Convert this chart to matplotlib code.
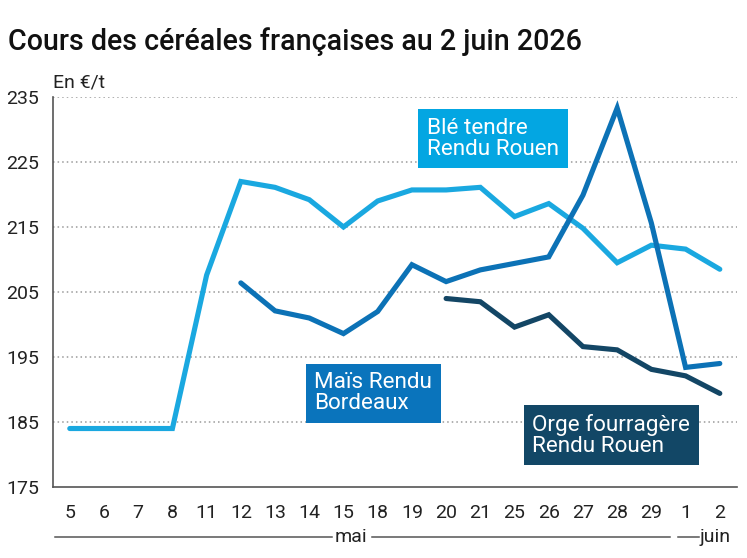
import matplotlib.pyplot as plt
import matplotlib.lines as mlines

plt.rcParams["font.family"] = ["Roboto", "DejaVu Sans"]

jours = ["5", "6", "7", "8", "11", "12", "13", "14", "15", "18", "19", "20",
         "21", "25", "26", "27", "28", "29", "1", "2"]
ble = [184, 184, 184, 184, 207.6, 222, 221.1, 219.2, 215, 219, 220.7, 220.7,
       221.1, 216.6, 218.6, 214.8, 209.5, 212.2, 211.6, 208.5]
mais = [None] * 5 + [206.4, 202.1, 201, 198.6, 202, 209.2, 206.6,
                     208.4, 209.4, 210.4, 219.9, 233.3, 215.6, 193.4, 194]
orge = [None] * 11 + [204, 203.5, 199.6, 201.5, 196.6, 196.1, 193.1, 192.1, 189.4]
yticks = [175, 185, 195, 205, 215, 225, 235]

c_ble = "#1aa8e0"
c_mais = "#0c72b6"
c_orge = "#134665"

fig = plt.figure(figsize=(7.47, 5.58), dpi=100)
ax = fig.add_axes([0.0705, 0.1272, 0.916, 0.699])

x = list(range(len(jours)))
for serie, col in [(ble, c_ble), (mais, c_mais), (orge, c_orge)]:
    xs = [i for i, v in zip(x, serie) if v is not None]
    ys = [v for v in serie if v is not None]
    ax.plot(xs, ys, color=col, lw=3.7, solid_joinstyle="miter", solid_capstyle="round", zorder=3)

ax.set_xlim(-0.5, 19.5)
ax.set_ylim(175, 235)
ax.set_yticks(yticks)
ax.set_xticks(x)
ax.set_xticklabels(jours)
ax.tick_params(axis="both", length=0, labelsize=14, colors="#222222")
ax.tick_params(axis="x", pad=12)
ax.tick_params(axis="y", pad=10)
for yv in yticks[1:]:
    ax.axhline(yv, color="#9a9a9a", lw=1.1, ls=(0, (1, 2)), zorder=1)

for s in ["top", "right"]:
    ax.spines[s].set_visible(False)
for s in ["left", "bottom"]:
    ax.spines[s].set_color("#555555")
    ax.spines[s].set_linewidth(1.2)

fig.text(0.011, 0.925, "Cours des céréales françaises au 2 juin 2026",
         fontsize=20.6, fontweight="medium", color="#111111", va="center")
fig.text(0.071, 0.853, "En €/t", fontsize=14, color="#222222", va="center")

labels = [("Blé tendre\nRendu Rouen", 12.37, 228.6, "#03a6e2"),
          ("Maïs Rendu\nBordeaux", 8.87, 189.4, "#0a74bc"),
          ("Orge fourragère\nRendu Rouen", 15.83, 183, "#124766")]
for txt, lx, ly, col in labels:
    ax.text(lx, ly, txt, color="white", fontsize=16.2, ha="center", va="center",
            multialignment="left", linespacing=1.0, zorder=4,
            bbox=dict(boxstyle="square,pad=0.38", fc=col, ec="none"))

# mois sous l'axe
yb = -0.128
tr = ax.get_xaxis_transform()
for x0, x1 in [(-0.44, 7.67), (8.84, 17.53), (17.77, 18.38)]:
    ax.add_line(mlines.Line2D([x0, x1], [yb, yb], transform=tr, color="#555555",
                              lw=1.1, clip_on=False))
ax.text(8.23, yb, "mai", transform=tr, ha="center", va="center", fontsize=14, color="#222222")
ax.text(18.42, yb, "juin", transform=tr, ha="left", va="center", fontsize=14, color="#222222")

fig.savefig("out.png", dpi=100)
